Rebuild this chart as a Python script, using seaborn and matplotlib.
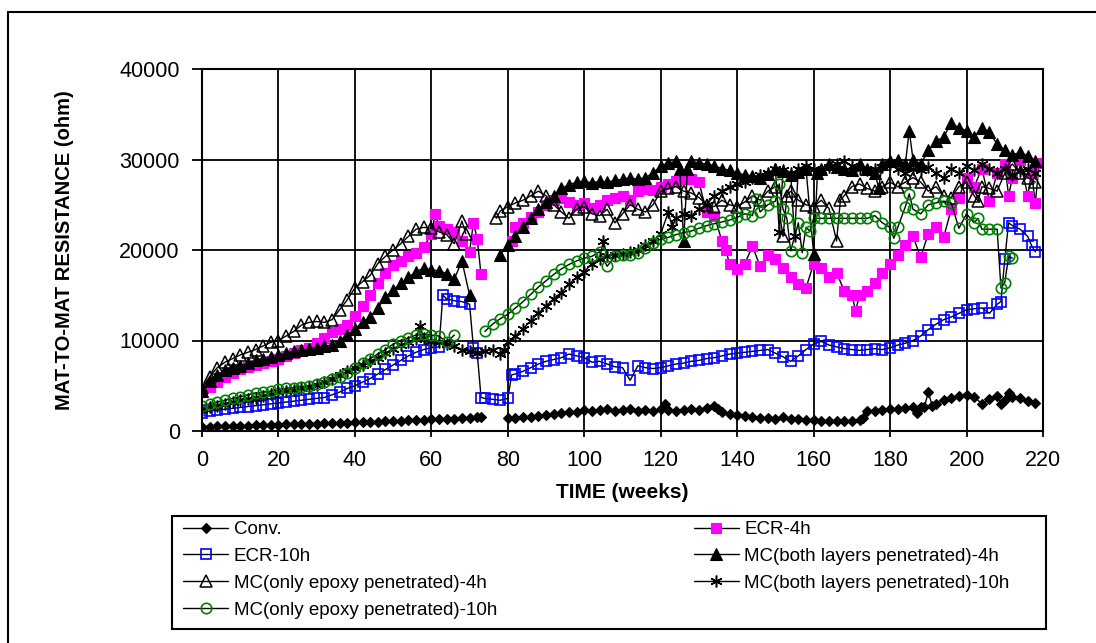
import pandas as pd
import matplotlib.pyplot as plt
import seaborn as sns
from matplotlib.lines import Line2D
from matplotlib.patches import Rectangle

# ---------------------------
# DATA (week, resistance in ohm); None marks a break in the line
# ---------------------------
CONV = [(0, 450), (2, 480), (4, 500), (6, 530), (8, 550), (10, 580), (12, 600), (14, 630), (16, 650),
        (18, 680), (20, 700), (22, 720), (24, 750), (26, 770), (28, 800), (30, 820), (32, 850), (34, 870),
        (36, 900), (38, 930), (40, 950), (42, 980), (44, 1000), (46, 1030), (48, 1060), (50, 1100),
        (52, 1130), (54, 1170), (56, 1200), (58, 1250), (60, 1300), (62, 1320), (64, 1350), (66, 1380),
        (68, 1420), (70, 1450), (72, 1550), (73, 1600), (76, None),
        (80, 1400), (82, 1450), (84, 1500), (86, 1600), (88, 1700), (90, 1800), (92, 1900), (94, 2000),
        (96, 2050), (98, 2150), (100, 2300), (102, 2200), (104, 2300), (106, 2450), (108, 2250),
        (110, 2300), (112, 2400), (114, 2250), (116, 2300), (118, 2200), (120, 2400), (121, 3000),
        (122, 2300), (124, 2200), (126, 2300), (128, 2400), (130, 2350), (132, 2500), (134, 2800),
        (135, 2400), (136, 2100), (138, 1900), (140, 1800), (142, 1700), (144, 1550), (146, 1450),
        (148, 1400), (150, 1350), (152, 1500), (154, 1350), (156, 1300), (158, 1250), (160, 1200),
        (162, 1150), (164, 1150), (166, 1150), (168, 1150), (170, 1150), (172, 1200), (173, 1400),
        (174, 2200), (176, 2250), (178, 2300), (180, 2400), (182, 2450), (184, 2500), (186, 2600),
        (187, 2000), (188, 2600), (189, 2700), (190, 4300), (191, 2800), (192, 3000), (194, 3400),
        (196, 3700), (198, 3900), (200, 4000), (202, 3800), (204, 3000), (206, 3500), (208, 3900),
        (209, 3000), (210, 3400), (211, 4200), (212, 3800), (214, 3600), (216, 3300), (218, 3100)]

ECR_4H = [(0, 4400), (2, 4900), (4, 5400), (6, 6000), (8, 6400), (10, 6800), (12, 7100), (14, 7300),
          (16, 7500), (18, 7700), (20, 8000), (22, 8300), (24, 8600), (26, 8900), (28, 9200), (30, 9700),
          (32, 10300), (34, 10900), (36, 11300), (38, 11700), (40, 12700), (42, 13800), (44, 15000),
          (46, 16300), (48, 17500), (50, 18300), (52, 18800), (54, 19300), (56, 19700), (58, 20300),
          (60, 21800), (61, 24000), (62, 22600), (64, 22300), (66, 22000), (68, 21000), (70, 19800),
          (71, 23000), (72, 21200), (73, 17300), (76, None),
          (81, 21000), (82, 22500), (84, 23000), (86, 23600), (88, 24200), (90, 25000), (92, 25500),
          (94, 25800), (96, 25300), (98, 25000), (100, 25200), (102, 24600), (104, 25000), (106, 25500),
          (108, 25800), (110, 26000), (112, 25500), (114, 26500), (116, 26700), (118, 26600),
          (120, 27000), (122, 27300), (124, 27600), (126, 27800), (128, 27800), (130, 27500),
          (132, 24200), (134, 23800), (136, 21000), (137, 20000), (138, 18500), (140, 17900),
          (142, 18500), (144, 20400), (146, 18200), (148, 19500), (150, 19000), (152, 18000),
          (154, 17000), (156, 16200), (158, 15800), (160, 18500), (162, 18000), (164, 17000),
          (166, 17500), (168, 15500), (170, 15000), (171, 13300), (172, 15000), (174, 15500),
          (176, 16300), (178, 17500), (180, 18500), (182, 19500), (184, 20500), (186, 21500),
          (188, 19200), (190, 21800), (192, 22500), (194, 21400), (196, 24500), (198, 25800),
          (200, 28000), (202, 27000), (204, 29000), (206, 25400), (208, 28500), (210, 29500),
          (211, 26000), (212, 28000), (214, 30000), (216, 26000), (217, 28500), (218, 25200),
          (219, 29600)]

ECR_10H = [(0, 2000), (2, 2200), (4, 2300), (6, 2400), (8, 2500), (10, 2600), (12, 2700), (14, 2800),
           (16, 2900), (18, 3000), (20, 3100), (22, 3200), (24, 3300), (26, 3400), (28, 3500), (30, 3600),
           (32, 3700), (34, 4000), (36, 4300), (38, 4700), (40, 5000), (42, 5400), (44, 5800), (46, 6300),
           (48, 6800), (50, 7300), (52, 7800), (54, 8300), (56, 8700), (58, 9000), (60, 9200), (62, 9300),
           (63, 15000), (64, 14600), (66, 14400), (68, 14300), (70, 14000), (71, 9200), (72, 8600),
           (73, 3700), (74, 3600), (76, 3500), (78, 3400), (80, 3600), (81, 6200), (82, 6300), (84, 6600),
           (86, 7000), (88, 7400), (90, 7700), (92, 7900), (94, 8100), (96, 8500), (98, 8300), (100, 8100),
           (102, 7600), (104, 7700), (106, 7400), (108, 7100), (110, 7000), (112, 5600), (114, 7200),
           (116, 7000), (118, 6900), (120, 7000), (122, 7200), (124, 7400), (126, 7500), (128, 7700),
           (130, 7800), (132, 8000), (134, 8100), (136, 8300), (138, 8500), (140, 8600), (142, 8700),
           (144, 8800), (146, 8900), (148, 9000), (150, 8600), (152, 8200), (154, 7700), (156, 8300),
           (158, 9000), (160, 9600), (162, 9900), (164, 9500), (166, 9300), (168, 9100), (170, 9000),
           (172, 8900), (174, 9000), (176, 9100), (178, 9000), (180, 9200), (182, 9500), (184, 9700),
           (186, 10000), (188, 10500), (190, 11200), (192, 11800), (194, 12300), (196, 12600),
           (198, 13000), (200, 13400), (202, 13500), (204, 13600), (206, 13000), (208, 14000),
           (209, 14300), (210, 19000), (211, 23000), (212, 22700), (214, 22300), (216, 21500),
           (217, 20500), (218, 19800)]

MC_BOTH_4H = [(0, 4400), (2, 5500), (4, 6200), (6, 6700), (8, 7000), (10, 7200), (12, 7500), (14, 7800),
              (16, 8000), (18, 8200), (20, 8400), (22, 8600), (24, 8800), (26, 8900), (28, 9100),
              (30, 9200), (32, 9400), (34, 9500), (36, 10000), (38, 10600), (40, 11300), (42, 12000),
              (44, 12600), (46, 13600), (48, 14800), (50, 15600), (52, 16300), (54, 17000), (56, 17600),
              (58, 18000), (60, 17800), (62, 17700), (64, 17400), (66, 16800), (68, 18800), (70, 15000),
              (74, None),
              (78, 19500), (80, 20500), (82, 21500), (84, 22500), (86, 23500), (88, 24500), (90, 25300),
              (92, 26000), (94, 26800), (96, 27200), (98, 27500), (100, 27600), (102, 27400), (104, 27600),
              (106, 27500), (108, 27700), (110, 27800), (112, 28000), (114, 27800), (116, 28000),
              (118, 28500), (120, 29300), (122, 29600), (124, 29800), (125, 29000), (126, 21000),
              (127, 29000), (128, 29800), (130, 29600), (132, 29500), (134, 29300), (136, 29000),
              (138, 28800), (140, 28500), (142, 28300), (144, 28200), (146, 28000), (148, 28400),
              (150, 29000), (152, 28700), (154, 28300), (156, 28600), (158, 29000), (160, 19600),
              (161, 28500), (162, 29000), (164, 29500), (166, 29200), (168, 29000), (170, 28800),
              (172, 29500), (174, 29000), (176, 28500), (177, 26900), (178, 29500), (180, 29800),
              (182, 30000), (184, 29500), (185, 33200), (186, 30000), (188, 29500), (190, 31000),
              (192, 32000), (194, 32500), (196, 34000), (198, 33500), (200, 33200), (202, 32500),
              (204, 33500), (206, 33000), (208, 31700), (210, 31000), (212, 30500), (214, 30800),
              (216, 30400), (218, 29800)]

MC_EPOXY_4H = [(0, 4800), (2, 6000), (4, 7000), (6, 7600), (8, 8000), (10, 8400), (12, 8700), (14, 9000),
               (16, 9400), (18, 9800), (20, 10000), (22, 10500), (24, 11000), (26, 11700), (28, 12000),
               (30, 12100), (32, 12000), (34, 12300), (36, 13400), (38, 14500), (40, 15800), (42, 16500),
               (44, 17200), (46, 18500), (48, 19300), (50, 20000), (52, 20700), (54, 21500), (56, 22300),
               (58, 22500), (60, 22400), (62, 22000), (64, 21700), (66, 20700), (68, 23200), (69, 21800),
               (73, None),
               (77, 23500), (78, 24300), (80, 24800), (82, 25200), (84, 25500), (86, 26000), (88, 26500),
               (90, 26000), (92, 25000), (94, 24200), (96, 23500), (98, 24500), (100, 24800), (102, 24000),
               (104, 23800), (106, 24500), (108, 23000), (110, 24000), (112, 25000), (114, 24500),
               (116, 24200), (118, 25000), (120, 26500), (122, 26800), (124, 27000), (126, 26500),
               (128, 26300), (130, 25800), (132, 25000), (134, 24800), (136, 25500), (138, 25000),
               (140, 24800), (142, 25300), (144, 26000), (146, 25500), (148, 26500), (150, 27000),
               (152, 21500), (153, 26000), (154, 26500), (156, 25500), (158, 25000), (160, 24800),
               (162, 25500), (164, 24600), (166, 21000), (167, 25500), (168, 26000), (170, 27000),
               (172, 27300), (174, 26800), (176, 26500), (178, 27000), (180, 27500), (182, 27000),
               (184, 27500), (186, 28000), (188, 27500), (190, 26500), (192, 27000), (194, 26000),
               (196, 25800), (198, 27000), (200, 27500), (202, 26000), (203, 25400), (204, 27000),
               (206, 26800), (208, 26500), (210, 28500), (212, 29500), (214, 28500), (216, 28000),
               (218, 27500)]

MC_BOTH_10H = [(0, 2300), (2, 2600), (4, 2800), (6, 3000), (8, 3200), (10, 3400), (12, 3500), (14, 3700),
               (16, 3900), (18, 4100), (20, 4300), (22, 4400), (24, 4500), (26, 4700), (28, 4900),
               (30, 5100), (32, 5400), (34, 5800), (36, 6200), (38, 6600), (40, 7000), (42, 7300),
               (44, 7700), (46, 8100), (48, 8600), (50, 9100), (52, 9500), (54, 9800), (56, 10200),
               (57, 11600), (58, 10300), (60, 10000), (62, 9800), (64, 9600), (66, 9400), (68, 9000),
               (70, 8800), (72, 8600), (74, 8800), (76, 9000), (78, 8500), (79, 9000), (80, 9800),
               (82, 10500), (84, 11300), (86, 12200), (88, 13000), (90, 13800), (92, 14600), (94, 15300),
               (96, 16200), (98, 17000), (100, 17600), (102, 18500), (104, 19000), (105, 21000),
               (106, 19300), (108, 19500), (110, 19600), (112, 19800), (114, 20000), (116, 20500),
               (118, 21000), (120, 21800), (122, 24200), (123, 22500), (124, 23500), (126, 24000),
               (128, 23800), (130, 24500), (132, 25000), (134, 26000), (136, 26500), (138, 27000),
               (140, 27300), (142, 27500), (144, 28000), (146, 28300), (148, 28500), (150, 29000),
               (151, 22000), (152, 28800), (154, 28500), (155, 21500), (156, 29000), (158, 29300),
               (160, 29000), (162, 28800), (164, 29200), (166, 29500), (168, 29800), (170, 29300),
               (172, 29000), (174, 28800), (176, 29000), (178, 29200), (180, 29500), (182, 29000),
               (184, 28500), (186, 29000), (188, 28800), (190, 29200), (192, 28500), (194, 28000),
               (196, 29000), (198, 28500), (200, 29300), (202, 28800), (204, 29500), (206, 29000),
               (208, 28500), (210, 29000), (212, 28300), (214, 28700), (216, 29000), (218, 28500)]

MC_EPOXY_10H = [(0, 2800), (2, 3000), (4, 3200), (6, 3400), (8, 3600), (10, 3800), (12, 4000), (14, 4200),
                (16, 4300), (18, 4400), (20, 4600), (22, 4700), (24, 4800), (26, 4900), (28, 5000),
                (30, 5200), (32, 5400), (34, 5700), (36, 6000), (38, 6400), (40, 7000), (42, 7500),
                (44, 8000), (46, 8500), (48, 9000), (50, 9600), (52, 10000), (54, 10300), (56, 10600),
                (58, 10700), (60, 10600), (62, 10500), (64, 9800), (66, 10600), (70, None),
                (74, 11000), (76, 11800), (78, 12400), (80, 12900), (82, 13600), (84, 14300), (86, 15100),
                (88, 15900), (90, 16600), (92, 17300), (94, 17900), (96, 18400), (98, 18800), (100, 19100),
                (102, 19300), (104, 19800), (106, 18200), (108, 19300), (110, 19500), (112, 19400),
                (114, 19700), (116, 20200), (118, 20800), (120, 21200), (122, 21400), (124, 21700),
                (126, 21900), (128, 22100), (130, 22400), (132, 22700), (134, 22900), (136, 23100),
                (138, 23300), (140, 23600), (142, 24000), (144, 23800), (145, 25600), (146, 24200),
                (148, 25000), (150, 25400), (151, 27300), (152, 24500), (153, 23500), (154, 19900),
                (156, 23000), (157, 19700), (158, 22500), (159, 22100), (160, 23500), (162, 23500),
                (164, 23500), (166, 23500), (168, 23500), (170, 23500), (172, 23500), (174, 23500),
                (176, 23800), (178, 23000), (180, 22500), (181, 21300), (182, 22500), (184, 24800),
                (185, 26200), (186, 24500), (188, 24000), (190, 25000), (192, 25200), (194, 25400),
                (196, 25200), (198, 22400), (200, 24000), (202, 23000), (203, 23500), (204, 22300),
                (206, 22300), (208, 22300), (209, 15800), (210, 16400), (211, 19300), (212, 19100)]

# series name, data, marker style (drawn in this order)
series = [
    ("Conv.", CONV, dict(marker="D", markersize=5, markerfacecolor="black", markeredgecolor="black", markeredgewidth=0.8)),
    ("ECR-4h", ECR_4H, dict(marker="s", markersize=7, markerfacecolor="#FF00FF", markeredgecolor="#FF00FF", markeredgewidth=0.8)),
    ("ECR-10h", ECR_10H, dict(marker="s", markersize=7, markerfacecolor="none", markeredgecolor="#0000FF", markeredgewidth=1.2)),
    ("MC(both layers penetrated)-4h", MC_BOTH_4H, dict(marker="^", markersize=8, markerfacecolor="black", markeredgecolor="black", markeredgewidth=0.8)),
    ("MC(only epoxy penetrated)-4h", MC_EPOXY_4H, dict(marker="^", markersize=8, markerfacecolor="none", markeredgecolor="black", markeredgewidth=1.1)),
    ("MC(both layers penetrated)-10h", MC_BOTH_10H, dict(marker=(6, 2, 0), markersize=8.5, markerfacecolor="black", markeredgecolor="black", markeredgewidth=1.1)),
    ("MC(only epoxy penetrated)-10h", MC_EPOXY_10H, dict(marker="o", markersize=7.5, markerfacecolor="none", markeredgecolor="#008000", markeredgewidth=1.2)),
]

# ---------------------------
# STYLE
# ---------------------------
sns.set_theme(style="white")
plt.rcParams["font.family"] = ["Liberation Sans", "DejaVu Sans"]

W, H = 1096, 643
fig = plt.figure(figsize=(W / 100, H / 100), dpi=100)
fig.patch.set_facecolor("white")
ax = fig.add_axes([202 / W, 1 - 431 / H, (1043 - 202) / W, (431 - 69) / H])

handles = {}
for name, pts, style in series:
    df = pd.DataFrame(pts, columns=["week", "value"])
    df["seg"] = df["value"].isna().cumsum()
    df = df.dropna()
    sns.lineplot(data=df, x="week", y="value", units="seg", estimator=None, sort=False,
                 color="black", linewidth=1.0, legend=False, ax=ax, **style)
    handles[name] = Line2D([], [], color="black", linewidth=1.0, **style)

# ---------------------------
# AXES
# ---------------------------
ax.set_xlim(0, 220)
ax.set_ylim(0, 40000)
ax.set_xticks(range(0, 221, 20))
ax.set_yticks(range(0, 40001, 10000))
ax.grid(True, color="black", linewidth=1.3)
ax.set_axisbelow(True)
for sp in ax.spines.values():
    sp.set_color("black")
    sp.set_linewidth(1.5)
ax.tick_params(axis="both", bottom=True, left=True, direction="out", color="black",
               width=1.3, labelsize=15.5, labelcolor="black")
ax.tick_params(axis="x", length=4, pad=10)
ax.tick_params(axis="y", length=7, pad=9)

ax.set_xlabel("TIME (weeks)", fontsize=15, fontweight="bold", color="black")
ax.set_ylabel("MAT-TO-MAT RESISTANCE (ohm)", fontsize=14.5, fontweight="bold", color="black")
ax.xaxis.set_label_coords(0.5, -0.145)
ax.yaxis.set_label_coords(-0.152, 0.5)

# ---------------------------
# LEGEND + BORDERS
# ---------------------------
order = ["Conv.", "ECR-10h", "MC(only epoxy penetrated)-4h", "MC(only epoxy penetrated)-10h",
         "ECR-4h", "MC(both layers penetrated)-4h", "MC(both layers penetrated)-10h"]
fig.legend([handles[n] for n in order], order, loc="upper left",
           bbox_to_anchor=(183 / W, 1 - 521 / H), ncol=2, frameon=False, fontsize=13.5,
           handlelength=2.4, handletextpad=0.3, columnspacing=10.5, labelspacing=0.52,
           borderaxespad=0, borderpad=0, numpoints=1, labelcolor="black")

fig.add_artist(Rectangle((172 / W, 1 - 629 / H), (1046 - 172) / W, (629 - 516) / H,
                         transform=fig.transFigure, fill=False, edgecolor="black", linewidth=1.5))
fig.add_artist(Rectangle((8 / W, -0.1), 1.2, (H - 12) / H + 0.1,
                         transform=fig.transFigure, fill=False, edgecolor="black", linewidth=1.5))

fig.savefig("out.png", dpi=100)
print("saved out.png")
